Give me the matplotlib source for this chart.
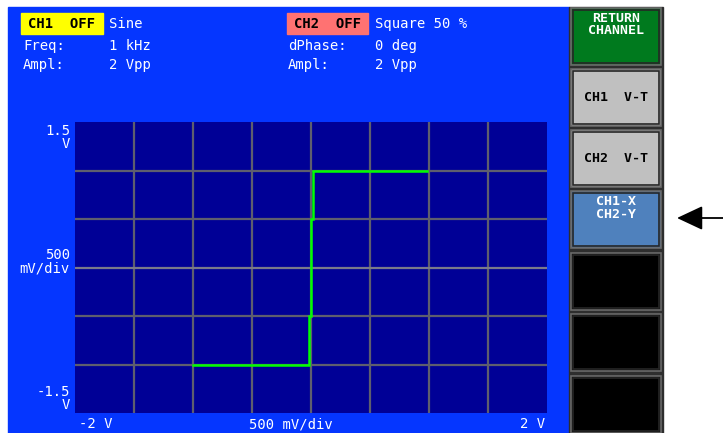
import matplotlib
matplotlib.use("Agg")
import matplotlib.pyplot as plt
from matplotlib.patches import Rectangle

# X-Y mode: CH1 (sine) on x, CH2 (square) on y
trace_x = [0.98, 0.015, 0.015, 0.0, 0.0, -0.015, -0.015, -1.0]
trace_y = [1.0, 1.0, 0.5, 0.5, -0.5, -0.5, -1.0, -1.0]

x_range = [-2.0, 2.0]
y_range = [-1.5, 1.5]
x_div = 0.5
y_div = 0.5

ch1_info = ["Sine", "1 kHz", "2 Vpp"]
ch2_info = ["Square 50 %", "0 deg", "2 Vpp"]
info_names1 = ["Freq:", "Ampl:"]
info_names2 = ["dPhase:", "Ampl:"]

buttons = ["RETURN\nCHANNEL", "CH1  V-T", "CH2  V-T", "CH1-X\nCH2-Y", "", "", ""]
button_colors = ["#007a1e", "#c0c0c0", "#c0c0c0", "#4f81bd", "#000000", "#000000", "#000000"]
button_text = ["white", "black", "black", "white", "white", "white", "white"]

W, H = 723, 433
FONT = "DejaVu Sans Mono"
SCREEN = "#0536ff"
NAVY = "#000096"

fig = plt.figure(figsize=(W / 100, H / 100), dpi=100)
fig.patch.set_facecolor("white")

# background axes in pixel coords
bg = fig.add_axes([0, 0, 1, 1])
bg.set_xlim(0, W)
bg.set_ylim(H, 0)
bg.axis("off")

bg.add_patch(Rectangle((8, 7), 561, 426, color=SCREEN, zorder=0))

# header
bg.add_patch(Rectangle((21, 13), 82, 21, color="#ffff00", zorder=1))
bg.text(62, 24, "CH1  OFF", color="black", fontsize=10, family=FONT,
        weight="bold", ha="center", va="center", zorder=2)
bg.add_patch(Rectangle((287, 13), 81, 21, color="#ff7272", zorder=1))
bg.text(327.5, 24, "CH2  OFF", color="black", fontsize=10, family=FONT,
        weight="bold", ha="center", va="center", zorder=2)

txt = dict(color="white", fontsize=10, family=FONT, va="center", zorder=2)
bg.text(109, 24, ch1_info[0], **txt)
bg.text(23, 46, info_names1[0], **txt)
bg.text(109, 46, ch1_info[1], **txt)
bg.text(23, 65, info_names1[1], **txt)
bg.text(109, 65, ch1_info[2], **txt)
bg.text(375, 24, ch2_info[0], **txt)
bg.text(288, 46, info_names2[0], **txt)
bg.text(375, 46, ch2_info[1], **txt)
bg.text(288, 65, info_names2[1], **txt)
bg.text(375, 65, ch2_info[2], **txt)

# axis labels around the graticule
bg.text(70, 124, "1.5\nV", color="white", fontsize=10, family=FONT,
        ha="right", va="top", linespacing=0.95)
bg.text(70, 262, "500\nmV/div", color="white", fontsize=10, family=FONT,
        ha="right", va="center", linespacing=0.95)
bg.text(70, 412, "-1.5\nV", color="white", fontsize=10, family=FONT,
        ha="right", va="bottom", linespacing=0.95)
bg.text(79, 424, "-2 V", **txt)
bg.text(291, 424, "500 mV/div", ha="center", color="white", fontsize=10,
        family=FONT, va="center")
bg.text(545, 424, "2 V", ha="right", color="white", fontsize=10,
        family=FONT, va="center")

# softkey column
bg.add_patch(Rectangle((569, 7), 94, 426, color="#2e2e2e", zorder=1))
tops = [7, 68, 129, 190, 252, 313, 375]
for i, label in enumerate(buttons):
    t = tops[i]
    h = 57
    bg.add_patch(Rectangle((571, t + 1), 90, h, facecolor=button_colors[i],
                           edgecolor="#6a6a6a", linewidth=1.2, zorder=2))
    bg.add_patch(Rectangle((573, t + 3), 86, h - 4, facecolor="none",
                           edgecolor="#262626", linewidth=1.2, zorder=3))
    if label:
        if "\n" in label:
            ty, va = t + 5, "top"
        else:
            ty, va = t + 1 + h / 2, "center"
        bg.text(616, ty, label, color=button_text[i], fontsize=9.5, family=FONT,
                weight="bold", ha="center", va=va, linespacing=0.95, zorder=4)

# pointer arrow
bg.annotate("", xy=(677, 218), xytext=(723, 218),
            arrowprops=dict(arrowstyle="-|>,head_length=1.6,head_width=0.75",
                            color="black", lw=1.3, shrinkA=0, shrinkB=0))

# graticule
left, right, top, bottom = 74.5, 547, 122, 413
ax = fig.add_axes([left / W, (H - bottom) / H, (right - left) / W, (bottom - top) / H])
ax.set_facecolor(NAVY)
ax.set_xlim(x_range)
ax.set_ylim(y_range)
nx = int(round((x_range[1] - x_range[0]) / x_div))
ny = int(round((y_range[1] - y_range[0]) / y_div))
for k in range(1, nx):
    ax.axvline(x_range[0] + k * x_div, color="#5e5e6e", lw=1.6, zorder=1)
for k in range(1, ny):
    c = "#7a7a8a" if k == ny // 2 else "#5e5e6e"
    ax.axhline(y_range[0] + k * y_div, color=c, lw=1.6, zorder=1)
ax.plot(trace_x, trace_y, color="#00ff00", lw=1.8, zorder=3, solid_joinstyle="miter")
ax.set_xticks([])
ax.set_yticks([])
for s in ax.spines.values():
    s.set_visible(False)

fig.savefig("out.png", dpi=100, facecolor="white")
